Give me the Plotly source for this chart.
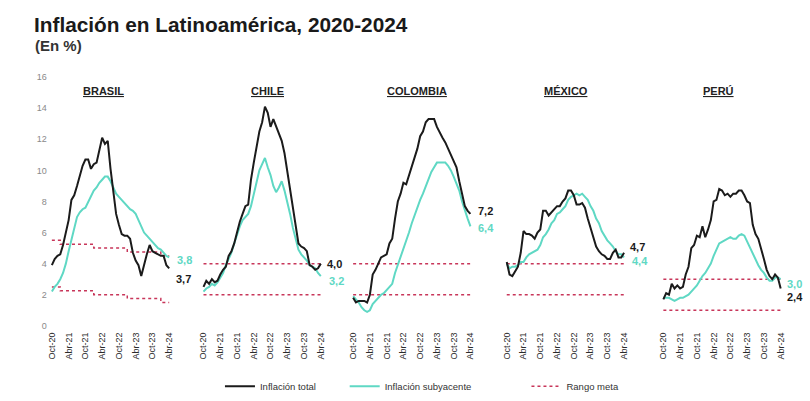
import plotly.graph_objects as go

# ---------------- DATA ----------------
meses = ["Ene", "Feb", "Mar", "Abr", "May", "Jun", "Jul", "Ago", "Sep", "Oct", "Nov", "Dic"]
periodos = [f"{meses[(9 + i) % 12]}-{20 + (9 + i) // 12}" for i in range(43)]  # Oct-20 .. Abr-24
tick_labels = ["Oct-20", "Abr-21", "Oct-21", "Abr-22", "Oct-22", "Abr-23", "Oct-23", "Abr-24"]

paises = ["BRASIL", "CHILE", "COLOMBIA", "MÉXICO", "PERÚ"]

brasil_total = [3.9, 4.3, 4.5, 4.6, 5.2, 6.1, 6.8, 8.1, 8.4, 9.0, 9.7, 10.3, 10.7, 10.7, 10.1,
                10.4, 10.5, 11.3, 12.1, 11.7, 11.9, 10.1, 8.7, 7.2, 6.5, 5.9, 5.8, 5.8, 5.6, 4.7,
                4.2, 3.9, 3.2, 4.0, 4.6, 5.2, 4.8, 4.7, 4.6, 4.5, 4.5, 3.9, 3.7]
brasil_sub = [2.2, 2.5, 2.7, 3.0, 3.4, 4.0, 4.8, 5.5, 6.3, 7.0, 7.3, 7.5, 7.6, 8.0, 8.4,
              8.7, 8.9, 9.2, 9.4, 9.6, 9.6, 9.3, 8.9, 8.5, 8.3, 8.1, 7.9, 7.7, 7.5, 7.4,
              7.2, 6.8, 6.4, 6.0, 5.8, 5.6, 5.4, 5.2, 5.0, 4.9, 4.7, 4.5, 4.4]

chile_total = [2.5, 2.9, 2.7, 3.0, 2.8, 2.9, 3.3, 3.6, 3.8, 4.5, 4.8, 5.3, 6.0, 6.7, 7.2,
               7.7, 7.8, 9.4, 10.5, 11.5, 12.5, 13.1, 14.1, 13.7, 12.8, 13.3, 12.8, 12.3, 11.9, 11.1,
               9.9, 8.7, 7.6, 6.5, 5.3, 5.1, 5.0, 4.8, 3.9, 3.8, 3.6, 3.7, 4.0]
chile_sub = [2.2, 2.4, 2.5, 2.7, 2.6, 2.8, 3.1, 3.4, 3.9, 4.3, 4.7, 5.3, 5.9, 6.4, 6.8,
             7.0, 7.2, 7.7, 8.5, 9.3, 10.0, 10.4, 10.8, 10.2, 9.7, 9.0, 8.6, 8.9, 9.3, 8.7,
             8.0, 7.2, 6.3, 5.6, 4.9, 4.6, 4.4, 4.2, 3.9, 3.8, 3.7, 3.4, 3.2]

colombia_total = [1.8, 1.5, 1.6, 1.6, 1.6, 1.5, 2.0, 3.3, 3.6, 4.0, 4.4, 4.5, 4.6, 5.3, 5.6,
                  6.9, 8.0, 8.5, 9.2, 9.1, 9.7, 10.2, 10.8, 11.4, 12.2, 12.5, 13.1, 13.3, 13.3, 13.3,
                  12.8, 12.4, 12.1, 11.8, 11.4, 11.0, 10.5, 10.2, 9.3, 8.4, 7.7, 7.4, 7.2]
colombia_sub = [1.9, 1.7, 1.5, 1.2, 1.0, 0.9, 1.0, 1.4, 1.6, 1.8, 2.0, 2.1, 2.3, 2.5, 2.7,
                3.4, 3.9, 4.4, 5.0, 5.5, 6.0, 6.6, 7.1, 7.7, 8.1, 8.5, 9.0, 9.5, 9.9, 10.2,
                10.5, 10.5, 10.5, 10.5, 10.3, 10.0, 9.6, 9.2, 8.7, 8.0, 7.4, 6.9, 6.4]

mexico_total = [4.1, 3.3, 3.2, 3.5, 3.8, 4.7, 6.1, 5.9, 5.9, 5.8, 5.6, 6.0, 6.2, 7.4, 7.4,
                7.1, 7.3, 7.5, 7.7, 7.7, 8.0, 8.2, 8.7, 8.7, 8.4, 7.8, 7.8, 7.9, 7.6, 6.9,
                6.3, 5.8, 5.1, 4.8, 4.6, 4.5, 4.3, 4.3, 4.7, 4.9, 4.4, 4.4, 4.7]
mexico_sub = [4.0, 3.7, 3.8, 3.8, 3.9, 4.1, 4.1, 4.4, 4.6, 4.7, 4.8, 4.9, 5.2, 5.7, 5.9,
              6.2, 6.6, 6.8, 7.2, 7.3, 7.5, 7.7, 8.1, 8.3, 8.4, 8.5, 8.4, 8.5, 8.3, 8.1,
              7.7, 7.4, 6.9, 6.6, 6.1, 5.8, 5.5, 5.3, 5.1, 4.8, 4.6, 4.6, 4.4]

peru_total = [1.7, 2.1, 2.0, 2.7, 2.4, 2.6, 2.4, 2.5, 3.3, 3.8, 5.0, 5.2, 5.8, 5.7, 6.4,
              5.7, 6.2, 6.8, 8.0, 8.1, 8.8, 8.7, 8.4, 8.5, 8.3, 8.5, 8.5, 8.7, 8.7, 8.4,
              8.0, 7.9, 6.5, 5.9, 5.6, 5.0, 4.3, 3.6, 3.2, 3.0, 3.3, 3.1, 2.4]
peru_sub = [1.8, 1.8, 1.8, 1.7, 1.6, 1.7, 1.8, 1.8, 1.9, 2.0, 2.2, 2.4, 2.6, 2.9, 3.2,
            3.4, 3.7, 4.0, 4.5, 4.9, 5.3, 5.4, 5.5, 5.6, 5.7, 5.6, 5.6, 5.8, 5.9, 5.8,
            5.4, 5.0, 4.6, 4.3, 3.9, 3.6, 3.4, 3.1, 2.9, 2.9, 3.1, 3.1, 3.0]

# Target range (step changes by year)
brasil_meta_x = ["Oct-20", "Ene-21", "Ene-22", "Ene-23", "Ene-24", "Abr-24"]
brasil_meta_sup = [5.5, 5.25, 5.0, 4.75, 4.5, 4.5]
brasil_meta_inf = [2.5, 2.25, 2.0, 1.75, 1.5, 1.5]
meta_x = ["Oct-20", "Abr-24"]
chile_meta_sup, chile_meta_inf = [4.0, 4.0], [2.0, 2.0]
colombia_meta_sup, colombia_meta_inf = [4.0, 4.0], [2.0, 2.0]
mexico_meta_sup, mexico_meta_inf = [4.0, 4.0], [2.0, 2.0]
peru_meta_sup, peru_meta_inf = [3.0, 3.0], [1.0, 1.0]

etiquetas_total = ["3,7", "4,0", "7,2", "4,7", "2,4"]
etiquetas_sub = ["3,8", "3,2", "6,4", "4,4", "3,0"]

# ---------------- STYLE ----------------
W, H = 810, 401
NEGRO = "#1b1b1b"
TURQ = "#5fd8c4"
ROJO = "#c8365a"
FONT = "Liberation Sans, Arial, sans-serif"
NB = "\u00a0"

series = [
    (brasil_total, brasil_sub, brasil_meta_x, brasil_meta_sup, brasil_meta_inf),
    (chile_total, chile_sub, meta_x, chile_meta_sup, chile_meta_inf),
    (colombia_total, colombia_sub, meta_x, colombia_meta_sup, colombia_meta_inf),
    (mexico_total, mexico_sub, meta_x, mexico_meta_sup, mexico_meta_inf),
    (peru_total, peru_sub, meta_x, peru_meta_sup, peru_meta_inf),
]

m0_px = [51, 203, 353, 507, 664]   # pixel position of first month per panel
title_px = [103, 267, 417, 566, 719]
px_per_month = 2.8
rng = [-1.5, 43.5]
ydom = [(H - 329) / H, (H - 74) / H]

# label offsets (xshift, yshift) in px
off_total = [(5, -11), (4, 0), (6, 3), (4, 6), (4, -9)]
off_sub = [(6, -3), (6, -5), (6, -2), (6, -4), (4, -5)]

fig = go.Figure()
layout = dict()
annotations = []

for i, (tot, sub, mx, msup, minf) in enumerate(series):
    k = "" if i == 0 else str(i + 1)
    xa, ya = "x" + k, "y" + k
    first = i == 0
    fig.add_trace(go.Scatter(x=mx, y=msup, xaxis=xa, yaxis=ya, mode="lines",
                             line=dict(color=ROJO, width=1.5, dash="dot", shape="hv"),
                             name="Rango meta", legendgroup="meta", showlegend=first,
                             legendrank=3))
    fig.add_trace(go.Scatter(x=mx, y=minf, xaxis=xa, yaxis=ya, mode="lines",
                             line=dict(color=ROJO, width=1.5, dash="dot", shape="hv"),
                             name="Rango meta", legendgroup="meta", showlegend=False))
    fig.add_trace(go.Scatter(x=periodos, y=sub, xaxis=xa, yaxis=ya, mode="lines",
                             line=dict(color=TURQ, width=2),
                             name="Inflación subyacente" + NB * 19, legendgroup="sub",
                             showlegend=first, legendrank=2))
    fig.add_trace(go.Scatter(x=periodos, y=tot, xaxis=xa, yaxis=ya, mode="lines",
                             line=dict(color=NEGRO, width=2),
                             name="Inflación total" + NB * 9, legendgroup="tot",
                             showlegend=first, legendrank=1))

    start = (m0_px[i] - (0 - rng[0]) * px_per_month) / W
    end = start + (rng[1] - rng[0]) * px_per_month / W
    layout["xaxis" + k] = dict(domain=[start, end], anchor=ya, type="category",
                               categoryorder="array", categoryarray=periodos,
                               range=rng, tickmode="array", tickvals=tick_labels,
                               ticktext=tick_labels, tickangle=-90, ticklabelstandoff=4,
                               tickfont=dict(size=9, color="#2a2a2a", family=FONT),
                               showgrid=False, zeroline=False, showline=False, ticks="")
    layout["yaxis" + k] = dict(domain=ydom, anchor=xa, range=[0, 16], dtick=2,
                               showticklabels=first, showgrid=False, zeroline=False,
                               showline=False, ticks="",
                               tickfont=dict(size=9, color="#8a8a8a", family=FONT))

    annotations.append(dict(text=f"<b><u>{paises[i]}</u></b>", xref="paper", yref="paper",
                            x=title_px[i] / W, y=(H - 88) / H, xanchor="center",
                            yanchor="middle", showarrow=False,
                            font=dict(size=11, color="#222", family=FONT)))
    annotations.append(dict(text=f"<b>{etiquetas_total[i]}</b>", xref=xa, yref=ya,
                            x=periodos[-1], y=tot[-1], xanchor="left", yanchor="middle",
                            showarrow=False,
                            xshift=off_total[i][0], yshift=off_total[i][1],
                            font=dict(size=11, color=NEGRO, family=FONT)))
    annotations.append(dict(text=f"<b>{etiquetas_sub[i]}</b>", xref=xa, yref=ya,
                            x=periodos[-1], y=sub[-1], xanchor="left", yanchor="middle",
                            showarrow=False,
                            xshift=off_sub[i][0], yshift=off_sub[i][1],
                            font=dict(size=11, color=TURQ, family=FONT)))

annotations.append(dict(text="<b>Inflación en Latinoamérica, 2020-2024</b>", xref="paper",
                        yref="paper", x=31 / W, y=(H - 20) / H, xanchor="left", yanchor="middle",
                        showarrow=False, font=dict(size=20.8, color="#1a1a1a", family=FONT)))
annotations.append(dict(text="<b>(En %)</b>", xref="paper", yref="paper", x=32 / W,
                        y=(H - 42) / H, xanchor="left", yanchor="middle", showarrow=False,
                        font=dict(size=15, color="#333", family=FONT)))

fig.update_layout(**layout)
fig.update_layout(
    width=W, height=H, margin=dict(l=0, r=0, t=0, b=0),
    paper_bgcolor="white", plot_bgcolor="white",
    annotations=annotations,
    showlegend=True,
    legend=dict(orientation="h", x=422 / W, xanchor="center", y=(H - 391) / H, yanchor="middle",
                font=dict(size=9.5, color="#333", family=FONT), traceorder="normal",
                itemwidth=30, bgcolor="rgba(0,0,0,0)"),
)

fig.write_html("out.html")
